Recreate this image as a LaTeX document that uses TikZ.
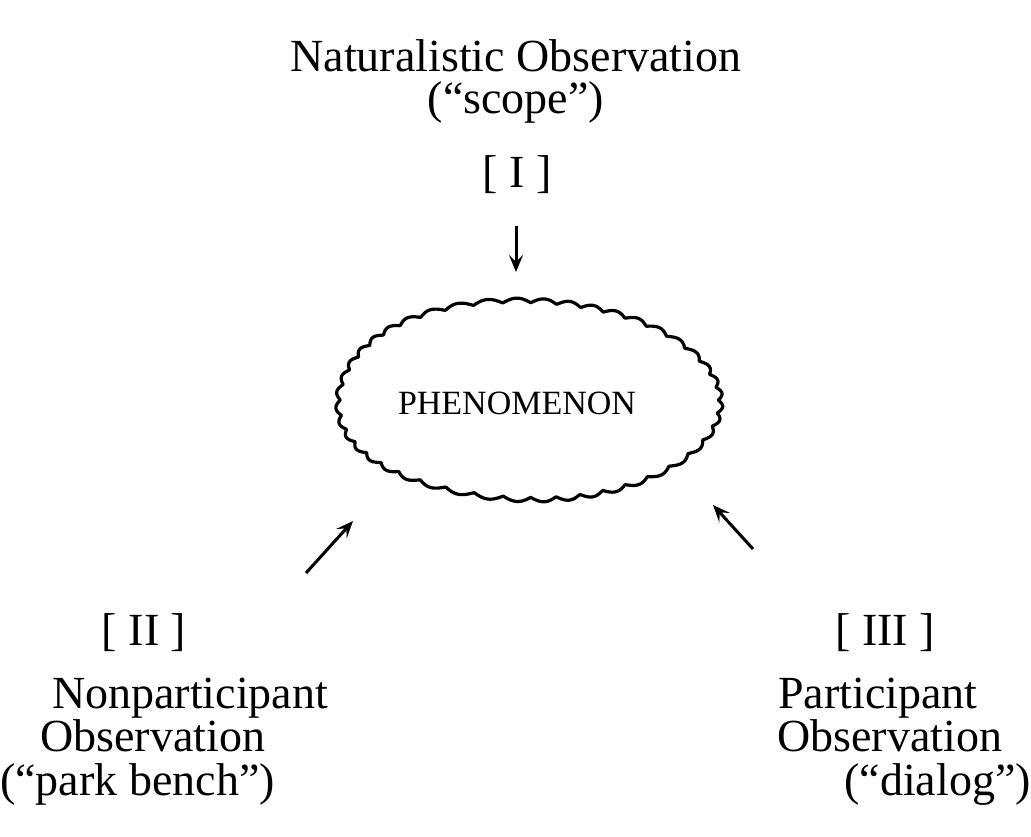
\documentclass[tikz,border=0pt]{standalone}
\usepackage{fontspec}
\setmainfont{Liberation Serif}
\usetikzlibrary{arrows.meta}
\tikzset{
  big/.style={font=\fontsize{46}{43}\selectfont, inner sep=0pt, align=center},
  small/.style={font=\fontsize{34}{34}\selectfont, inner sep=0pt},
  pointer/.style={line width=3pt, -{Stealth[length=17pt,width=14pt,inset=7pt]}},
  cloudline/.style={line width=3.2pt, line join=round}
}
\begin{document}
\begin{tikzpicture}[x=1pt,y=-1pt]
\useasboundingbox (0,0) rectangle (1031,836);
% top
\node[big, anchor=base] (t1) at (516,71) {Naturalistic Observation};
\node[big, anchor=base] (t2) at (516,113) {(“scope”)};
\node[big, anchor=base] (r1) at (517,187) {[ I ]};
% cloud
\draw[cloudline] plot[domain=0:360, samples=900, variable=\t]
  ({527 + (189 + 4.5*abs(sin(22*\t + 25*sin(5*\t))) + 3*sin(3*\t+50))*cos(\t)},
   {400 + (98 + 4.5*abs(sin(22*\t + 25*sin(5*\t))) + 2*sin(2*\t+20))*sin(\t)}) -- cycle;
\node[small, anchor=base] (ph) at (517,414) {PHENOMENON};
% arrows
\coordinate (a1s) at (516,226);
\coordinate (a1e) at (516,272);
\coordinate (a2s) at (306,573);
\coordinate (a2e) at (353,521);
\coordinate (a3s) at (753,549);
\coordinate (a3e) at (713,505);
\draw[pointer] (a1s) -- (a1e);
\draw[pointer] (a2s) -- (a2e);
\draw[pointer] (a3s) -- (a3e);
% left
\node[big, anchor=base] (r2) at (144,645) {[ II ]};
\node[big, anchor=base west] (l1) at (52,708) {Nonparticipant};
\node[big, anchor=base west] (l2) at (40,751) {Observation};
\node[big, anchor=base west] (l3) at (0,795) {(“park bench”)};
% right
\node[big, anchor=base] (r3) at (885,645) {[ III ]};
\node[big, anchor=base west] (q1) at (778,708) {Participant};
\node[big, anchor=base west] (q2) at (777,751) {Observation};
\node[big, anchor=base east] (q3) at (1031,795) {(“dialog”)};
\end{tikzpicture}
\end{document}
